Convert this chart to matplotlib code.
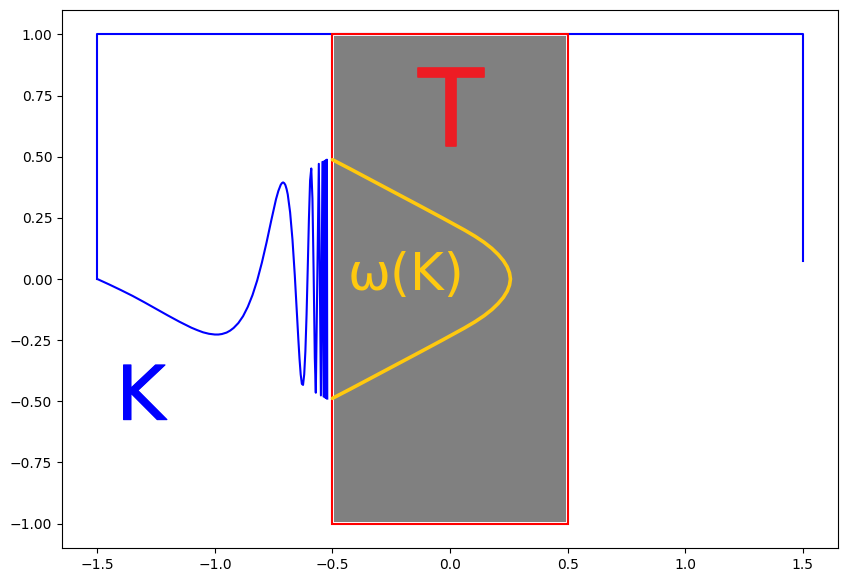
import matplotlib

matplotlib.use("Agg")
import matplotlib.pyplot as plt
import matplotlib.patheffects as pe
from matplotlib.patches import Rectangle

# blue curve: damped sine part
sine_x = [-1.5, -1.45, -1.4, -1.35, -1.3, -1.25, -1.2, -1.15, -1.1, -1.075,
          -1.05, -1.025, -1.0, -0.985, -0.97, -0.95, -0.935, -0.92, -0.9, -0.88,
          -0.86, -0.84, -0.82, -0.8, -0.78, -0.76, -0.74, -0.73, -0.72, -0.715,
          -0.71, -0.705, -0.70, -0.695, -0.69, -0.68, -0.67, -0.66, -0.655, -0.65,
          -0.645, -0.64, -0.635, -0.63, -0.625, -0.62, -0.615, -0.61, -0.605,
          -0.60, -0.595, -0.59, -0.585, -0.58, -0.575, -0.5707, -0.5579, -0.549,
          -0.5424, -0.5374, -0.5335, -0.5303, -0.5277, -0.5255, -0.5236, -0.5220]
sine_y = [0.0, -0.022, -0.045, -0.069, -0.095, -0.122, -0.149, -0.175, -0.199,
          -0.209, -0.218, -0.224, -0.227, -0.227, -0.225, -0.219, -0.211, -0.200,
          -0.180, -0.152, -0.114, -0.066, -0.006, 0.067, 0.150, 0.240, 0.326,
          0.360, 0.385, 0.392, 0.395, 0.392, 0.384, 0.368, 0.346, 0.273, 0.162,
          0.014, -0.073, -0.159, -0.246, -0.326, -0.390, -0.429, -0.433, -0.390,
          -0.295, -0.146, 0.044, 0.245, 0.403, 0.452, 0.329, 0.031, -0.321,
          -0.465, 0.471, -0.476, 0.479, -0.481, 0.483, -0.485, 0.486, -0.487,
          0.488, -0.489]

# blue curve: outer frame part
frame_x = [-1.5, -1.5, 1.5, 1.5]
frame_y = [0.0, 1.0, 1.0, 0.075]

# yellow limit set curve
omega_x = [-0.500, -0.424, -0.326, -0.228, -0.130, -0.033, 0.062, 0.106, 0.145,
           0.178, 0.205, 0.227, 0.243, 0.253, 0.257, 0.253, 0.243, 0.227, 0.205,
           0.178, 0.145, 0.106, 0.062, -0.033, -0.130, -0.228, -0.326, -0.424,
           -0.500]
omega_y = [0.488, 0.45, 0.40, 0.35, 0.30, 0.25, 0.20, 0.175, 0.15, 0.125, 0.10,
           0.075, 0.05, 0.025, 0.0, -0.025, -0.05, -0.075, -0.10, -0.125, -0.15,
           -0.175, -0.20, -0.25, -0.30, -0.35, -0.40, -0.45, -0.488]

YELLOW = "#FFC90E"
RED_TXT = "#ED1C24"

fig = plt.figure(figsize=(8.47, 5.82), dpi=100)
ax = fig.add_subplot(111)
fig.subplots_adjust(left=0.0732, right=0.9894, bottom=0.0584, top=0.9828)

ax.plot(sine_x, sine_y, color="blue", lw=1.5, zorder=2)
ax.plot(frame_x, frame_y, color="blue", lw=1.5, zorder=2)

ax.add_patch(Rectangle((-0.492, -0.995), 0.984, 1.99, facecolor="gray",
                       edgecolor="none", zorder=1))
ax.add_patch(Rectangle((-0.5, -1.0), 1.0, 2.0, facecolor="none",
                       edgecolor="red", lw=1.5, zorder=3))

ax.plot(omega_x, omega_y, color=YELLOW, lw=2.6, solid_capstyle="round",
        solid_joinstyle="round", zorder=4)

ax.text(-1.315, -0.575, "K", color="blue", fontsize=54, ha="center",
        va="baseline", zorder=5,
        path_effects=[pe.withStroke(linewidth=0.8, foreground="blue")])
ax.text(0.005, 0.545, "T", color=RED_TXT, fontsize=77, ha="center",
        va="baseline", zorder=5,
        path_effects=[pe.withStroke(linewidth=1.2, foreground=RED_TXT)])
ax.text(-0.435, -0.045, "ω(K)", color=YELLOW, fontsize=37, ha="left",
        va="baseline", zorder=5)

fig.savefig("out.png", dpi=100)
plt.close(fig)
